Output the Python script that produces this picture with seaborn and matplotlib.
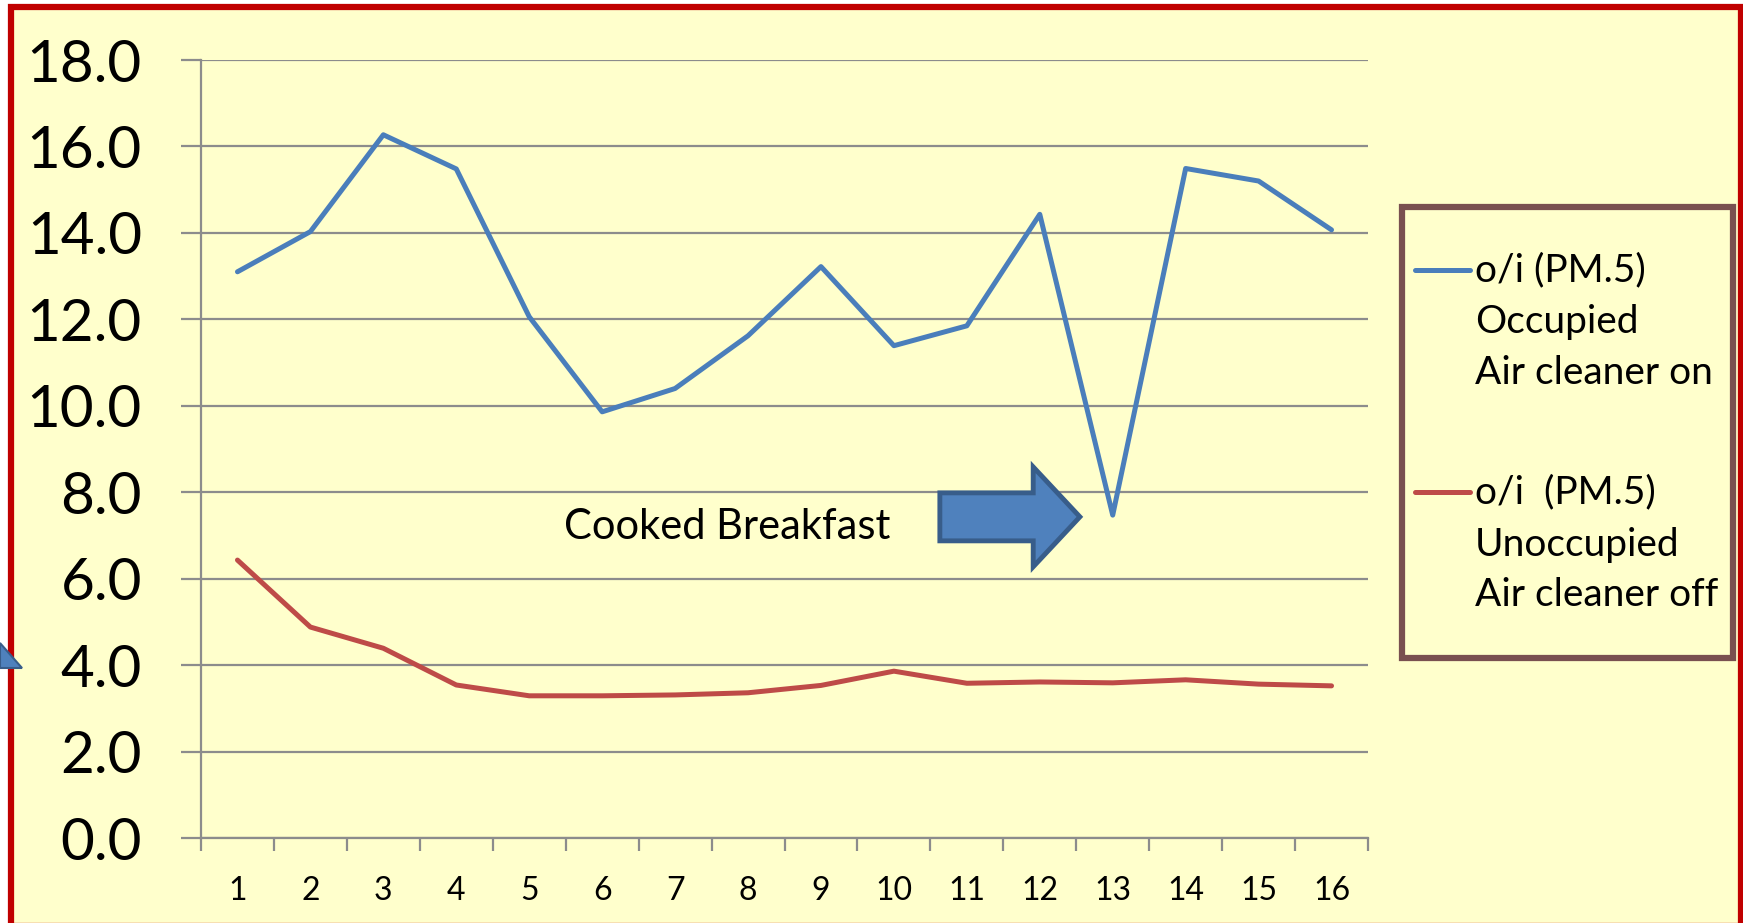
import numpy as np
import pandas as pd
import seaborn as sns
import matplotlib
matplotlib.use("Agg")
import matplotlib.pyplot as plt
from matplotlib.patches import Rectangle, FancyArrow, Polygon
from matplotlib.lines import Line2D

# ---- data ----
samples = list(range(1, 17))
occupied_on = [13.1, 14.03, 16.27, 15.48, 12.06, 9.86, 10.4, 11.62, 13.22, 11.39, 11.85, 14.43, 7.47, 15.49, 15.2, 14.07]
unoccupied_off = [6.43, 4.88, 4.39, 3.54, 3.29, 3.29, 3.31, 3.36, 3.53, 3.86, 3.58, 3.61, 3.59, 3.66, 3.56, 3.52]
series_names = ["o/i (PM.5)\nOccupied\nAir cleaner on", "o/i  (PM.5)\nUnoccupied\nAir cleaner off"]
y_ticks = [0, 2, 4, 6, 8, 10, 12, 14, 16, 18]
annotation = "Cooked Breakfast"

df = pd.DataFrame({
    "sample": samples * 2,
    "ratio": occupied_on + unoccupied_off,
    "series": [series_names[0]] * 16 + [series_names[1]] * 16,
})

sns.set_style("white")
FONT = ["Lato", "DejaVu Sans"]
plt.rcParams["font.family"] = FONT
plt.rcParams["text.color"] = "black"

W, H = 1743, 923
fig = plt.figure(figsize=(W / 100, H / 100), dpi=100)
fig.patch.set_facecolor("white")

# chart area background with red frame
fig.patches.append(Rectangle((11 / W, -3 / H), (1741 - 11) / W, (923 - 6.5 + 3) / H,
                             transform=fig.transFigure, facecolor="#FFFFCC",
                             edgecolor="#C00000", lw=4.5, zorder=-5))

ax = fig.add_axes([201 / W, 1 - 838 / H, (1368 - 201) / W, (838 - 60) / H])
ax.set_facecolor("none")

BLUE = "#4A7EBB"
RED = "#BE4B48"
GRID = "#8C8C8C"

sns.lineplot(data=df, x="sample", y="ratio", hue="series",
             palette=[BLUE, RED], lw=3.6, legend=False, ax=ax, zorder=3)
for ln in ax.get_lines():
    ln.set_solid_capstyle("round")

ax.set_xlim(0.5, 16.5)
ax.set_ylim(0, 18)
ax.set_yticks(y_ticks)
ax.set_yticklabels([f"{v:.1f}" for v in y_ticks])
ax.set_xticks(samples)
ax.set_xticklabels([str(s) for s in samples])
ax.set_xticks(np.arange(0.5, 17, 1), minor=True)
ax.set_xlabel("")
ax.set_ylabel("")

ax.grid(axis="y", color=GRID, lw=1.6, zorder=1)
ax.grid(axis="x", visible=False)
for s in ["top", "right"]:
    ax.spines[s].set_visible(False)
for s in ["left", "bottom"]:
    ax.spines[s].set_color(GRID)
    ax.spines[s].set_linewidth(1.6)

ax.tick_params(axis="y", which="major", length=14.5, width=1.6, color=GRID,
               direction="out", pad=28, labelsize=42, labelcolor="black", left=True)
ax.tick_params(axis="x", which="major", length=0, pad=27, labelsize=23, labelcolor="black")
ax.tick_params(axis="x", which="minor", length=9.5, width=1.6, color=GRID,
               direction="out", bottom=True)

# annotation arrow and text
arrow = FancyArrow(10.63, 7.43, 1.92, 0, width=1.11, head_width=2.31, head_length=0.64,
                   length_includes_head=True, facecolor="#4F81BD", edgecolor="#385D8A",
                   lw=3.5, zorder=4)
ax.add_patch(arrow)
fig.text(727 / W, 1 - 527 / H, annotation, fontsize=30, ha="center", va="center", color="black")

# cut-off shape at left edge
fig.patches.append(Polygon([(0, 1 - 643 / H), (22 / W, 1 - 668 / H), (0, 1 - 668 / H)],
                           closed=True, transform=fig.transFigure, facecolor="#4F81BD",
                           edgecolor="#385D8A", lw=1.5, zorder=5))

# legend box
fig.patches.append(Rectangle((1402 / W, 1 - 658 / H), (1733 - 1402) / W, (658 - 207) / H,
                             transform=fig.transFigure, facecolor="none",
                             edgecolor="#795050", lw=4.5, zorder=5))
entries = [(BLUE, [270, 322, 373], series_names[0]), (RED, [492, 545, 595], series_names[1])]
for color, ys, name in entries:
    fig.lines.append(Line2D([1415 / W, 1470 / W], [1 - ys[0] / H] * 2, color=color, lw=3.6,
                            transform=fig.transFigure, solid_capstyle="round"))
    for yy, line in zip(ys, name.split("\n")):
        fig.text(1475 / W, 1 - yy / H, line, fontsize=28, ha="left", va="center", color="black")

fig.savefig("out.png", dpi=100)
